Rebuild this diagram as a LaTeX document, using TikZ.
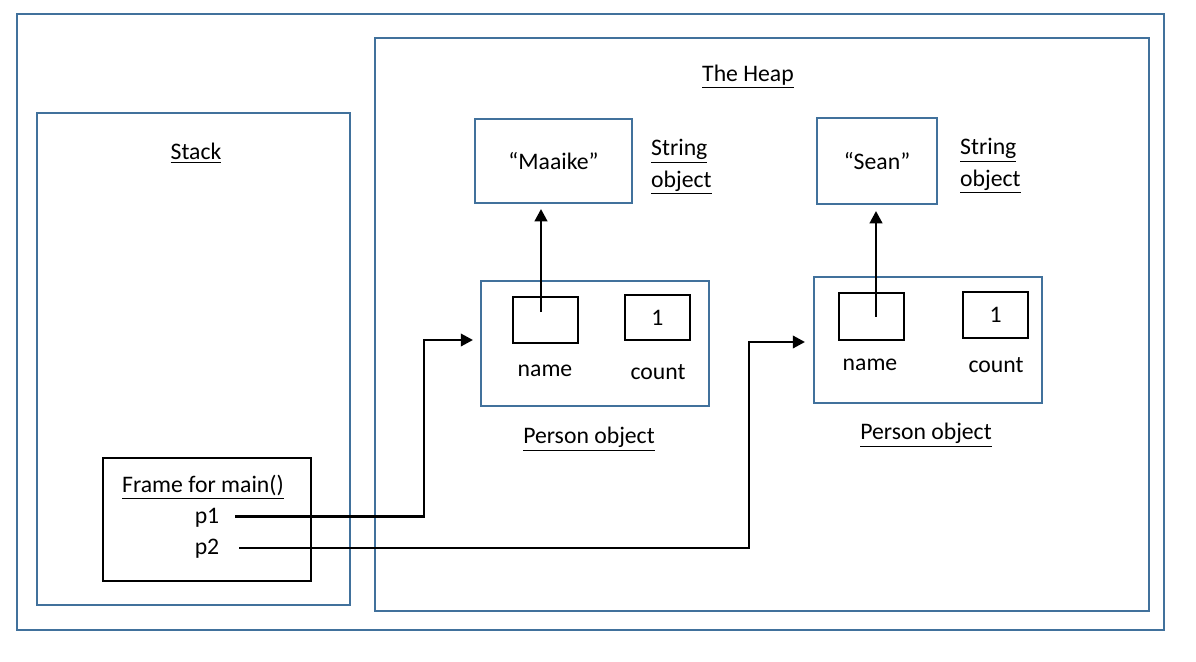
\documentclass[tikz,border=0pt]{standalone}
\usepackage{fontspec}
\setmainfont{Carlito}
\usepackage{tikz}
\usetikzlibrary{arrows.meta,shapes}

\definecolor{heapblue}{HTML}{41719C}

\begin{document}
\begin{tikzpicture}[x=0.02cm,y=-0.02cm,
    font=\fontsize{13.5}{16}\selectfont,
    bluebox/.style={draw=heapblue, line width=1.1pt, rectangle, inner sep=0pt},
    blackbox/.style={draw=black, line width=1.1pt, rectangle, inner sep=0pt},
    ptr/.style={line width=1.6pt, -{Triangle[length=7pt,width=7pt]}}]
    \useasboundingbox (0,0) rectangle (1196,662);
    % frames
    \node[bluebox, minimum width=22.94cm, minimum height=12.32cm] (outer) at (590.5,322) {};
    \node[bluebox, minimum width=6.26cm, minimum height=9.84cm] (stack) at (193.5,359) {};
    \node[bluebox, minimum width=15.48cm, minimum height=11.46cm] (heap) at (762,324.5) {};
    \node (stacklabel) at (196,153) {\underline{Stack}};
    \node (heaplabel) at (748,77) {\underline{The Heap}};
    % string objects
    \node[bluebox, minimum width=3.14cm, minimum height=1.68cm] (maaike) at (553.5,161) {“Maaike”};
    \node[bluebox, minimum width=2.4cm, minimum height=1.72cm] (sean) at (877,161) {“Sean”};
    \node[anchor=west, align=left] (str1) at (645,167) {\underline{String}\\[2pt]\underline{object}};
    \node[anchor=west, align=left] (str2) at (954,166) {\underline{String}\\[2pt]\underline{object}};
    % person objects
    \node[bluebox, minimum width=4.56cm, minimum height=2.5cm] (person1) at (595,343.5) {};
    \node[blackbox, minimum width=1.3cm, minimum height=0.92cm] (name1) at (545.5,320) {};
    \node[blackbox, minimum width=1.3cm, minimum height=0.9cm] (count1) at (657.5,317.5) {1};
    \node (namelabel1) at (545,371) {name};
    \node (countlabel1) at (658,372) {count};
    \node (person1label) at (589,439) {\underline{Person object}};
    \node[bluebox, minimum width=4.56cm, minimum height=2.52cm] (person2) at (928,340) {};
    \node[blackbox, minimum width=1.3cm, minimum height=0.94cm] (name2) at (871.5,316.5) {};
    \node[blackbox, minimum width=1.3cm, minimum height=0.92cm] (count2) at (995.5,315) {1};
    \node (namelabel2) at (870,365) {name};
    \node (countlabel2) at (996,365) {count};
    \node (person2label) at (926,435) {\underline{Person object}};
    % frame for main
    \node[blackbox, minimum width=4.16cm, minimum height=2.46cm] (frame) at (207,519.5) {};
    \node (framelabel) at (203,487) {\underline{Frame for main()}};
    \node (p1) at (207,518) {p1};
    \node (p2) at (207,549) {p2};
    % references
    \coordinate (bend1) at (424,430);
    \coordinate (bend2) at (749,430);
    \draw[ptr, shorten >=0.14cm] ([xshift=0.2cm,yshift=0.03cm]p1.east) -| (bend1) |- ([yshift=0.07cm]person1.west);
    \draw[ptr, shorten >=0.16cm] ([xshift=0.28cm,yshift=0.02cm]p2.east) -| (bend2) |- ([yshift=-0.04cm]person2.west);
    \draw[ptr, shorten >=0.1cm] ([xshift=-0.09cm,yshift=0.16cm]name1.center) -- ([xshift=-0.09cm]name1.center |- maaike.south);
    \draw[ptr, shorten >=0.12cm] ([xshift=0.09cm,yshift=0cm]name2.center) -- ([xshift=0.09cm]name2.center |- sean.south);
\end{tikzpicture}
\end{document}
